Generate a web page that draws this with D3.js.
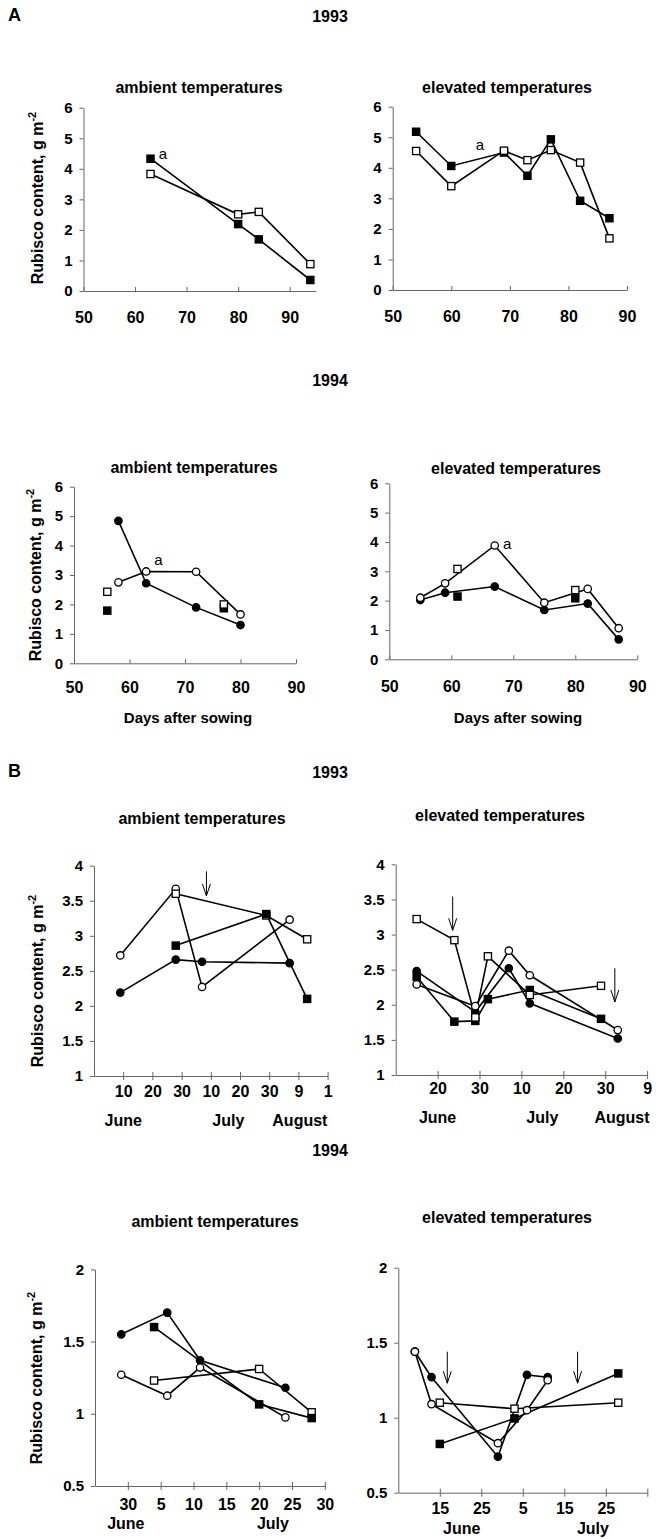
<!DOCTYPE html>
<html>
<head>
<meta charset="utf-8">
<script src="https://cdn.jsdelivr.net/npm/d3@7"></script>
<style>
  body { margin: 0; background: #fff; }
  text { font-family: "Liberation Sans", Arial, Helvetica, sans-serif; font-weight: bold; fill: #000; }
  .axis path, .axis line { stroke: #666; stroke-width: 1; }
  .note { font-weight: normal; }
</style>
</head>
<body>
<svg id="fig" width="659" height="1539"></svg>
<script>
// ---- A: days after sowing ----
var a93AmbDays = [63, 80, 84, 94];
var a93AmbFilledSq = [4.33, 2.19, 1.69, 0.36];
var a93AmbOpenSq = [3.83, 2.51, 2.59, 0.88];

var a93ElvDays = [54, 60, 69, 73, 77, 82, 87];
var a93ElvFilledSq = [5.18, 4.06, 4.50, 3.74, 4.93, 2.92, 2.35];
var a93ElvOpenSq = [4.55, 3.40, 4.56, 4.25, 4.58, 4.17, 1.69];

var a94AmbCircDays = [58, 63, 72, 80];
var a94AmbOpenCirc = [2.75, 3.12, 3.11, 1.66];
var a94AmbFilledCirc = [4.84, 2.72, 1.90, 1.30];
var a94AmbSqDays = [56, 77];
var a94AmbOpenSq = [2.43, 2.00];
var a94AmbFilledSq = [1.79, 1.87];

var a94ElvCircDays = [55, 59, 67, 75, 82, 87];
var a94ElvOpenCirc = [2.10, 2.59, 3.88, 1.93, 2.40, 1.06];
var a94ElvFilledCirc = [2.02, 2.27, 2.48, 1.68, 1.90, 0.68];
var a94ElvSqDays = [61, 80];
var a94ElvOpenSq = [3.08, 2.36];
var a94ElvFilledSq = [2.14, 2.08];

// "a" marks (day, value)
var a93AmbNote = [65.4, 4.48];
var a93ElvNote = [64.9, 4.75];
var a94AmbNote = [65.2, 3.51];
var a94ElvNote = [69.0, 3.93];

var aDayTicks = [50, 60, 70, 80, 90];
var aYTicks = [0, 1, 2, 3, 4, 5, 6];

// ---- B: calendar days counted from 31 May (June 10 = 10, July 10 = 40) ----
var b93AmbCircDays = [9, 28, 37, 67];
var b93AmbOpenCirc = [2.72, 3.67, 2.27, 3.23];
var b93AmbFilledCirc = [2.19, 2.66, 2.63, 2.61];
var b93AmbSqDays = [28, 59, 73];
var b93AmbOpenSq = [3.60, 3.29, 2.95];
var b93AmbFilledSq = [2.86, 3.31, 2.10];
var b93AmbArrows = [[38.5, 3.92, 3.57]];

var b93ElvCircDays = [15, 29, 37, 42, 63];
var b93ElvOpenCirc = [2.29, 1.98, 2.77, 2.42, 1.64];
var b93ElvFilledCirc = [2.48, 1.90, 2.52, 2.02, 1.52];
var b93ElvSqDays = [15, 24, 29, 32, 42, 59];
var b93ElvOpenSq = [3.22, 2.92, 1.82, 2.69, 2.14, 2.27];
var b93ElvFilledSq = [2.40, 1.76, 1.77, 2.08, 2.21, 1.80];
var b93ElvArrows = [[23.6, 3.54, 3.06], [62.3, 2.52, 2.04]];

var b94AmbCircDays = [29, 36, 41, 54];
var b94AmbFilledCirc = [1.55, 1.70, 1.37, 1.18];
var b94AmbOpenCirc = [1.27, 1.125, 1.32, 0.975];
var b94AmbSqDays = [34, 50, 58];
var b94AmbOpenSq = [1.23, 1.31, 1.01];
var b94AmbFilledSq = [1.60, 1.065, 0.97];

var b94ElvCircDays = [9, 13, 29, 36, 41];
var b94ElvOpenCirc = [1.44, 1.09, 0.83, 1.05, 1.25];
var b94ElvFilledCirc = [1.44, 1.27, 0.74, 1.285, 1.27];
var b94ElvSqDays = [15, 33, 58];
var b94ElvOpenSq = [1.10, 1.06, 1.10];
var b94ElvFilledSq = [0.825, 0.995, 1.295];
var b94ElvArrows = [[16.8, 1.44, 1.23], [48.2, 1.44, 1.23]];

var b93AmbDateTicks = [10, 20, 30, 40, 50, 60, 70, 80];
var b93AmbDateLabels = ["10", "20", "30", "10", "20", "30", "9", "1"];
var b93ElvDateTicks = [20, 30, 40, 50, 60, 70];
var b93ElvDateLabels = ["20", "30", "10", "20", "30", "9"];
var b94AmbDateTicks = [30, 35, 40, 45, 50, 55, 60];
var b94AmbDateLabels = ["30", "5", "10", "15", "20", "25", "30"];
var b94ElvDateTicks = [15, 25, 35, 45, 55, 65];
var b94ElvDateLabels = ["15", "25", "5", "15", "25", ""];
var b93YTicks = [1, 1.5, 2, 2.5, 3, 3.5, 4];
var b94YTicks = [0.5, 1, 1.5, 2];

var b93Months = ["June", "July", "August"];
var b93AmbMonthDays = [10, 46, 70.5];
var b93ElvMonthDays = [20, 45, 64];
var b94Months = ["June", "July"];
var b94AmbMonthDays = [29.7, 52.1];
var b94ElvMonthDays = [20.3, 51.9];

function series(days, vals, shape, filled) {
  return { pts: d3.zip(days, vals), shape: shape, filled: filled };
}

var svg = d3.select("#fig");

var panels = [
  { title: "ambient temperatures", tx: 199, ty: 93,
    x0: 83.5, x1: 316, y0: 291, y1: 107.7, xDom: [50, 95.1], yDom: [0, 6],
    xTicks: aDayTicks, xLabels: aDayTicks, yTicks: aYTicks, inward: true, pad: 21,
    series: [series(a93AmbDays, a93AmbFilledSq, "sq", true), series(a93AmbDays, a93AmbOpenSq, "sq", false)],
    note: a93AmbNote },
  { title: "elevated temperatures", tx: 507, ty: 93,
    x0: 392.7, x1: 627, y0: 290, y1: 106.7, xDom: [50, 90], yDom: [0, 6],
    xTicks: aDayTicks, xLabels: aDayTicks, yTicks: aYTicks, inward: true, pad: 21,
    series: [series(a93ElvDays, a93ElvFilledSq, "sq", true), series(a93ElvDays, a93ElvOpenSq, "sq", false)],
    note: a93ElvNote },
  { title: "ambient temperatures", tx: 194, ty: 473,
    x0: 74, x1: 296, y0: 663.3, y1: 486.7, xDom: [50, 90], yDom: [0, 6],
    xTicks: aDayTicks, xLabels: aDayTicks, yTicks: aYTicks, inward: true, pad: 18,
    series: [series(a94AmbCircDays, a94AmbOpenCirc, "ci", false), series(a94AmbCircDays, a94AmbFilledCirc, "ci", true),
             series(a94AmbSqDays, a94AmbFilledSq, "sq", true, true), series(a94AmbSqDays, a94AmbOpenSq, "sq", false)],
    noLine: [2, 3], note: a94AmbNote },
  { title: "elevated temperatures", tx: 516, ty: 474,
    x0: 389.3, x1: 637.3, y0: 659.3, y1: 483.3, xDom: [50, 90], yDom: [0, 6],
    xTicks: aDayTicks, xLabels: aDayTicks, yTicks: aYTicks, inward: true, pad: 21,
    series: [series(a94ElvCircDays, a94ElvFilledCirc, "ci", true), series(a94ElvCircDays, a94ElvOpenCirc, "ci", false),
             series(a94ElvSqDays, a94ElvFilledSq, "sq", true), series(a94ElvSqDays, a94ElvOpenSq, "sq", false)],
    noLine: [2, 3], note: a94ElvNote },
  { title: "ambient temperatures", tx: 202, ty: 824,
    x0: 94, x1: 327.6, y0: 1076, y1: 865.7, xDom: [0, 80], yDom: [1, 4],
    xTicks: b93AmbDateTicks, xLabels: b93AmbDateLabels, yTicks: b93YTicks, inward: false, pad: 6,
    series: [series(b93AmbCircDays, b93AmbFilledCirc, "ci", true), series(b93AmbCircDays, b93AmbOpenCirc, "ci", false),
             series(b93AmbSqDays, b93AmbOpenSq, "sq", false), series(b93AmbSqDays, b93AmbFilledSq, "sq", true)],
    arrows: b93AmbArrows, months: b93Months, monthDays: b93AmbMonthDays, monthY: 1126 },
  { title: "elevated temperatures", tx: 500, ty: 821,
    x0: 395.7, x1: 647.1, y0: 1075, y1: 864.3, xDom: [10, 70], yDom: [1, 4],
    xTicks: b93ElvDateTicks, xLabels: b93ElvDateLabels, yTicks: b93YTicks, inward: false, pad: 4,
    series: [series(b93ElvCircDays, b93ElvFilledCirc, "ci", true), series(b93ElvCircDays, b93ElvOpenCirc, "ci", false),
             series(b93ElvSqDays, b93ElvFilledSq, "sq", true), series(b93ElvSqDays, b93ElvOpenSq, "sq", false)],
    arrows: b93ElvArrows, months: b93Months, monthDays: b93ElvMonthDays, monthY: 1123 },
  { title: "ambient temperatures", tx: 215, ty: 1227,
    x0: 95, x1: 324.8, y0: 1486, y1: 1269.3, xDom: [25, 60], yDom: [0.5, 2],
    xTicks: b94AmbDateTicks, xLabels: b94AmbDateLabels, yTicks: b94YTicks, inward: false, pad: 9,
    series: [series(b94AmbCircDays, b94AmbFilledCirc, "ci", true), series(b94AmbCircDays, b94AmbOpenCirc, "ci", false),
             series(b94AmbSqDays, b94AmbOpenSq, "sq", false), series(b94AmbSqDays, b94AmbFilledSq, "sq", true)],
    months: b94Months, monthDays: b94AmbMonthDays, monthY: 1529 },
  { title: "elevated temperatures", tx: 507, ty: 1223,
    x0: 398.3, x1: 647.3, y0: 1492.7, y1: 1267.7, xDom: [5, 65], yDom: [0.5, 2],
    xTicks: b94ElvDateTicks, xLabels: b94ElvDateLabels, yTicks: b94YTicks, inward: false, pad: 6,
    series: [series(b94ElvCircDays, b94ElvFilledCirc, "ci", true), series(b94ElvCircDays, b94ElvOpenCirc, "ci", false),
             series(b94ElvSqDays, b94ElvOpenSq, "sq", false), series(b94ElvSqDays, b94ElvFilledSq, "sq", true)],
    arrows: b94ElvArrows, months: b94Months, monthDays: b94ElvMonthDays, monthY: 1534 }
];

function drawPanel(p) {
  var x = d3.scaleLinear().domain(p.xDom).range([p.x0, p.x1]);
  var y = d3.scaleLinear().domain(p.yDom).range([p.y0, p.y1]);
  var g = svg.append("g");

  g.append("text").attr("x", p.tx).attr("y", p.ty).attr("text-anchor", "middle")
    .style("font-size", "16px").text(p.title);

  var yAx = g.append("g").attr("class", "axis")
    .attr("transform", "translate(" + x(p.xDom[0]) + ",0)")
    .call(d3.axisLeft(y).tickValues(p.yTicks).tickSize(4).tickSizeOuter(0).tickPadding(7)
      .tickFormat(d3.format("")));
  yAx.selectAll("text").style("font-size", "15px").attr("fill", "#000");

  var xAx = g.append("g").attr("class", "axis")
    .attr("transform", "translate(0," + y(p.yDom[0]) + ")")
    .call(d3.axisBottom(x).tickValues(p.xTicks).tickSize(p.inward ? -4 : 4).tickSizeOuter(0)
      .tickPadding(p.pad).tickFormat(function (d, i) { return p.xLabels[i]; }));
  xAx.selectAll("text").style("font-size", "16px").attr("fill", "#000");
  if (!p.inward) xAx.selectAll(".tick line").attr("y1", -4);

  var line = d3.line().x(function (d) { return x(d[0]); }).y(function (d) { return y(d[1]); });
  p.series.forEach(function (s, i) {
    if (p.noLine && p.noLine.indexOf(i) >= 0) return;
    g.append("path").attr("d", line(s.pts)).attr("fill", "none")
      .attr("stroke", "#000").attr("stroke-width", 1.6);
  });

  p.series.forEach(function (s) {
    var m = g.append("g").selectAll("x").data(s.pts).enter();
    if (s.shape === "sq") {
      m.append("rect")
        .attr("x", function (d) { return x(d[0]) - 3.6; })
        .attr("y", function (d) { return y(d[1]) - 3.6; })
        .attr("width", 7.2).attr("height", 7.2)
        .attr("fill", s.filled ? "#000" : "#fff").attr("stroke", "#000").attr("stroke-width", 1.3);
    } else {
      m.append("circle")
        .attr("cx", function (d) { return x(d[0]); })
        .attr("cy", function (d) { return y(d[1]); })
        .attr("r", 3.7)
        .attr("fill", s.filled ? "#000" : "#fff").attr("stroke", "#000").attr("stroke-width", 1.3);
    }
  });

  if (p.note) {
    g.append("text").attr("class", "note").attr("x", x(p.note[0])).attr("y", y(p.note[1]) + 5)
      .attr("text-anchor", "middle").style("font-size", "15px").text("a");
  }

  (p.arrows || []).forEach(function (a) {
    var ax = x(a[0]), top = y(a[1]), tip = y(a[2]);
    g.append("line").attr("x1", ax).attr("x2", ax).attr("y1", top).attr("y2", tip)
      .attr("stroke", "#000").attr("stroke-width", 1);
    g.append("path").attr("d", "M" + (ax - 4) + "," + (tip - 12) + "L" + ax + "," + tip + "L" + (ax + 4) + "," + (tip - 12))
      .attr("fill", "none").attr("stroke", "#000").attr("stroke-width", 1);
  });

  (p.months || []).forEach(function (mName, i) {
    g.append("text").attr("x", x(p.monthDays[i])).attr("y", p.monthY).attr("text-anchor", "middle")
      .style("font-size", "16px").text(mName);
  });
}

panels.forEach(drawPanel);

// y-axis titles, one per row
[[43, 198], [41, 575], [43, 981], [42, 1378]].forEach(function (pos) {
  var t = svg.append("text").attr("transform", "translate(" + pos[0] + "," + pos[1] + ") rotate(-90)")
    .attr("text-anchor", "middle").style("font-size", "16px");
  t.append("tspan").text("Rubisco content, g m");
  t.append("tspan").attr("dy", -7).style("font-size", "11px").text("-2");
});

// x-axis titles under the 1994 A row
[188, 518].forEach(function (cx) {
  svg.append("text").attr("x", cx).attr("y", 723).attr("text-anchor", "middle")
    .style("font-size", "15px").text("Days after sowing");
});

// section headings
svg.append("text").attr("x", 8).attr("y", 21).style("font-size", "18px").text("A");
svg.append("text").attr("x", 330).attr("y", 22).attr("text-anchor", "middle").style("font-size", "16px").text("1993");
svg.append("text").attr("x", 330).attr("y", 386).attr("text-anchor", "middle").style("font-size", "16px").text("1994");
svg.append("text").attr("x", 8).attr("y", 777).style("font-size", "18px").text("B");
svg.append("text").attr("x", 330).attr("y", 778).attr("text-anchor", "middle").style("font-size", "16px").text("1993");
svg.append("text").attr("x", 330).attr("y", 1156).attr("text-anchor", "middle").style("font-size", "16px").text("1994");
</script>
</body>
</html>
